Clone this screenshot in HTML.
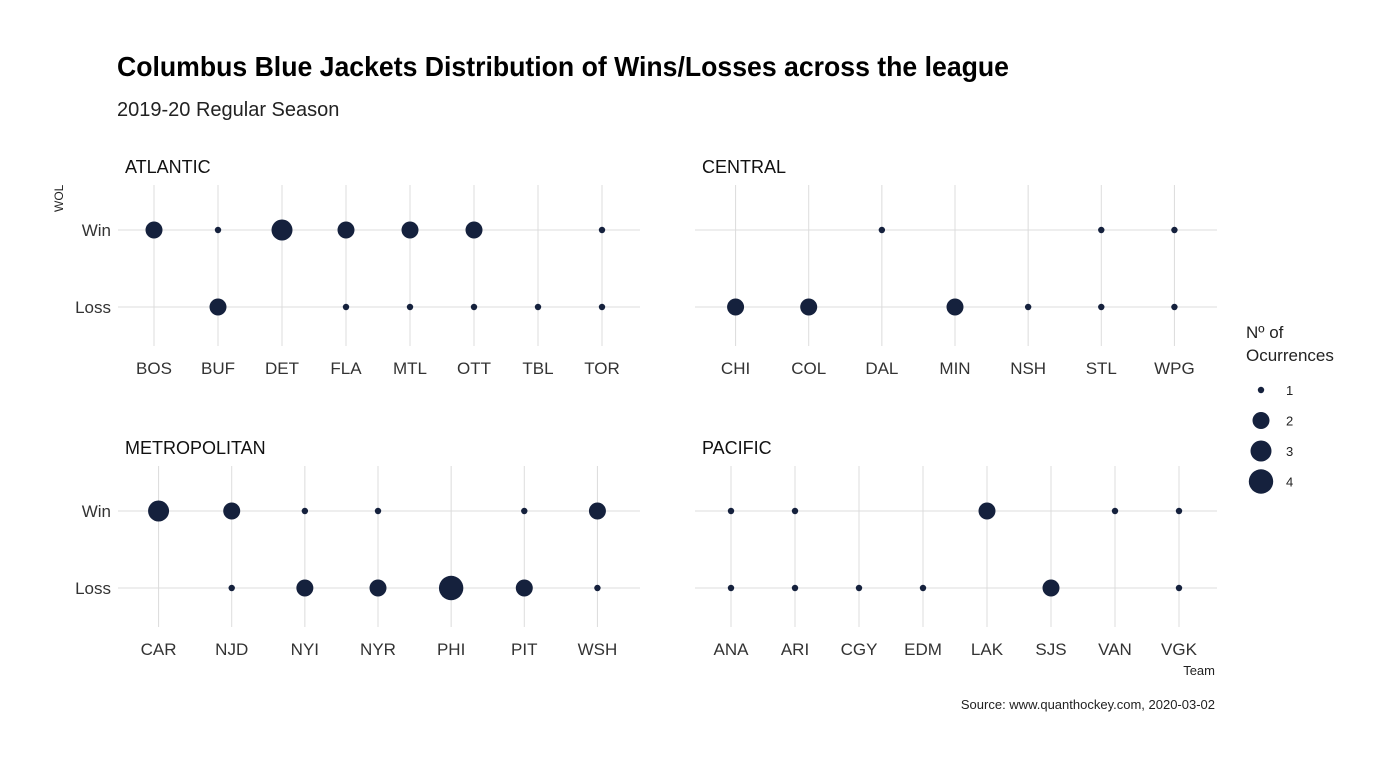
<!DOCTYPE html>
<html><head><meta charset="utf-8"><style>
body{margin:0;background:#fff;}
svg text{font-family:"Liberation Sans",sans-serif;}
</style></head><body>
<svg width="1400" height="764">
<text x="117" y="76" font-size="28" font-weight="bold" fill="#000" textLength="892" lengthAdjust="spacingAndGlyphs">Columbus Blue Jackets Distribution of Wins/Losses across the league</text>
<text x="117" y="116" font-size="20" fill="#222">2019-20 Regular Season</text>
<text transform="translate(63,212) rotate(-90)" font-size="12" fill="#222">WOL</text>
<text x="1215" y="675" font-size="13" fill="#222" text-anchor="end">Team</text>
<text x="1215" y="709" font-size="13" fill="#222" text-anchor="end">Source: www.quanthockey.com, 2020-03-02</text>
<g id="panels"></g>
<g>
<text x="1246" y="338" font-size="17" fill="#222">Nº of</text>
<text x="1246" y="361" font-size="17" fill="#222">Ocurrences</text>
<g id="legend-keys"></g>
</g>
</svg>
<script>
const divisions=["ATLANTIC","CENTRAL","METROPOLITAN","PACIFIC"];
const atlTeams=["BOS","BUF","DET","FLA","MTL","OTT","TBL","TOR"];
const atlWin=[2,1,3,2,2,2,0,1];
const atlLoss=[0,2,0,1,1,1,1,1];
const cenTeams=["CHI","COL","DAL","MIN","NSH","STL","WPG"];
const cenWin=[0,0,1,0,0,1,1];
const cenLoss=[2,2,0,2,1,1,1];
const metTeams=["CAR","NJD","NYI","NYR","PHI","PIT","WSH"];
const metWin=[3,2,1,1,0,1,2];
const metLoss=[0,1,2,2,4,2,1];
const pacTeams=["ANA","ARI","CGY","EDM","LAK","SJS","VAN","VGK"];
const pacWin=[1,1,0,0,2,0,1,1];
const pacLoss=[1,1,1,1,0,2,0,1];
const legendValues=[1,2,3,4];
const rScale={1:3.2,2:8.5,3:10.5,4:12.2};
const NS="http://www.w3.org/2000/svg";
function mk(tag,attrs,parent){const e=document.createElementNS(NS,tag);for(const k in attrs)e.setAttribute(k,attrs[k]);parent.appendChild(e);return e;}
const panelsG=document.getElementById('panels');
const layouts=[{x:122,y:0,teams:atlTeams,win:atlWin,loss:atlLoss},{x:699,y:0,teams:cenTeams,win:cenWin,loss:cenLoss},{x:122,y:281,teams:metTeams,win:metWin,loss:metLoss},{x:699,y:281,teams:pacTeams,win:pacWin,loss:pacLoss}];
layouts.forEach((p,i)=>{
  const g=mk('g',{},panelsG);
  
  
  const t=mk('text',{x:p.x+3,y:p.y+173,'font-size':18,fill:'#111'},g);t.textContent=divisions[i];
  
  
  const w=512,step=w/p.teams.length;
  const xs=k=>p.x+step*(k+0.5);
  const yWin=p.y+230,yLoss=p.y+307;
  const ys=v=>v==="Win"?yWin:yLoss;
  ["Win","Loss"].forEach(l=>{
    const ln=mk('line',{x1:p.x-4,x2:p.x+w+6,y1:ys(l),y2:ys(l),stroke:'#dcdcdc','stroke-width':1},g);
    
    
    if(i%2===0){const tx=mk('text',{x:111,y:ys(l)+6,'font-size':17,fill:'#333','text-anchor':'end'},g);tx.textContent=l;
      
      }
  });
  p.teams.forEach((tm,k)=>{
    const x=xs(k);
    const vl=mk('line',{x1:x,x2:x,y1:p.y+185,y2:p.y+346,stroke:'#dcdcdc','stroke-width':1},g);
    
    
    const lb=mk('text',{x:x,y:p.y+374,'font-size':17,fill:'#333','text-anchor':'middle'},g);lb.textContent=tm;
    
    
    [["Win",p.win[k]],["Loss",p.loss[k]]].forEach(([l,v])=>{
      if(v>0){const c=mk('circle',{cx:x,cy:ys(l),r:rScale[v],fill:'#15213d'},g);
        
        }
    });
  });
});
const lg=document.getElementById('legend-keys');
legendValues.forEach((v,k)=>{
  const y=390+k*30.5;
  const c=mk('circle',{cx:1261,cy:y,r:rScale[v],fill:'#15213d'},lg);
  
  
  const t=mk('text',{x:1286,y:y+5,'font-size':13,fill:'#222'},lg);t.textContent=v;
  
  
});
</script>
</body></html>
